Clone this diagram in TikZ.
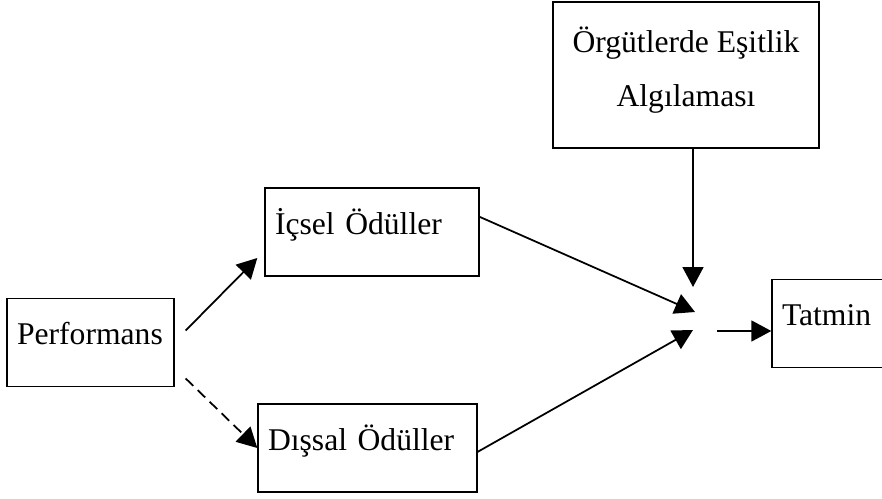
\documentclass[tikz,border=0pt]{standalone}
\usepackage{fontspec}
\setmainfont{Liberation Serif}
\usepackage{tikz}
\usetikzlibrary{arrows.meta, positioning, calc}

\begin{document}
\begin{tikzpicture}[x=0.02cm, y=-0.02cm,
            box/.style={rectangle, draw=black, line width=0.8pt, minimum height=1.76cm, inner xsep=0.2cm, inner ysep=0pt, align=left, text height=0.45cm, text depth=0.35cm, font=\fontsize{18}{31}\selectfont},
            arrow/.style={-{Triangle[length=0.4cm, width=0.42cm]}, line width=1pt},
            dashline/.style={dash pattern=on 6pt off 3.5pt}
        ]
\useasboundingbox (0,0) rectangle (882,499);

% Input
            \node[box, text width=2.94cm] (perf) at (90.5,342.5) {Performans};

% Rewards
            \node[box, text width=3.88cm] (icsel) at (372,232) {İçsel Ödüller};
            \node[box, text width=3.98cm] (dissal) at (367.5,448) {Dışsal Ödüller};

% Moderator
            \node[rectangle, draw=black, line width=0.8pt, minimum width=5.32cm, minimum height=2.92cm, align=center, text depth=0.33cm, font=\fontsize{18}{31}\selectfont] (orgut) at (686,75) {Örgütlerde Eşitlik\\Algılaması};

% Output
            \node[box, text width=2.06cm] (tatmin) at (833.5,323.5) {Tatmin};

% Meeting points
            \coordinate (in1) at (695,312);
            \coordinate (in2) at (693,330);
            \coordinate (vtip) at (693,287);
            \coordinate (out) at (717,331);

% Arrows
            \draw[arrow] ($(perf.east)+(11,-12)$) -- ($(icsel.west)+(-7,26)$);
            \draw[arrow, dashline] ($(perf.east)+(11,36)$) -- (dissal.west);
            \draw[arrow] (icsel.8) -- (in1);
            \draw[arrow] (dissal.-2) -- (in2);
            \draw[arrow] (orgut.south -| vtip) -- (vtip);
            \draw[arrow] (out) -- (out -| tatmin.west);

        \end{tikzpicture}
\end{document}
